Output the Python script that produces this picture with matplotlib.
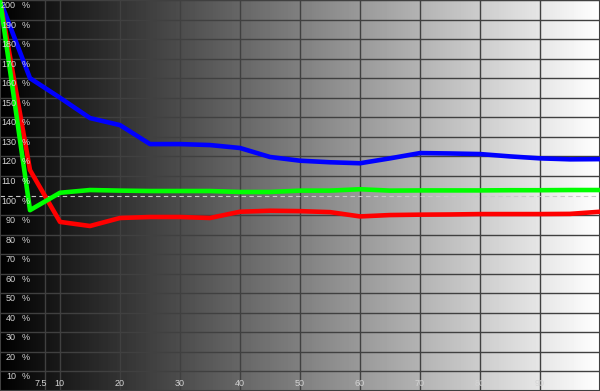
import matplotlib
matplotlib.use("Agg")
import matplotlib.pyplot as plt
import matplotlib.transforms as mtransforms
import numpy as np

# stimulus level (%) and measured output (% of reference) per channel
levels = [0, 5, 10, 15, 20, 25, 30, 35, 40, 45, 50, 55, 60, 65, 70, 75, 80, 85, 90, 95, 100]
red = [200, 113, 86.5, 84.4, 88.5, 89, 89, 88.5, 91.7, 92.2, 92, 91.5, 89.3, 90, 90.2, 90.3, 90.5, 90.5, 90.5, 90.6, 91.7]
green = [200, 92.5, 101.4, 102.8, 102.5, 102.3, 102.3, 102.3, 101.8, 101.8, 102.5, 102.5, 103.2, 102.5, 102.6, 102.6, 102.6, 102.7, 102.7, 102.8, 102.8]
blue = [200, 160, 150, 139.6, 136, 126.3, 126.3, 125.8, 124.3, 119.7, 117.8, 117, 116.5, 119, 121.7, 121.5, 121.2, 120, 119, 118.5, 118.6]

x_ticks = [7.5, 10, 20, 30, 40, 50, 60, 70, 80, 90]
x_labels = ["7.5", "10", "20", "30", "40", "50", "60", "70", "80", "90"]
y_ticks = list(range(10, 201, 10))
y_labels = [str(v) for v in y_ticks]

FONT = ["Liberation Sans Narrow", "Liberation Sans", "DejaVu Sans"]

fig = plt.figure(figsize=(6, 3.91), dpi=100)
ax = fig.add_axes([0, 0, 1, 1])
ax.set_xlim(0, 100)
ax.set_ylim(0, 200)

# black-to-white horizontal gradient background
grad = np.linspace(0, 1, 600).reshape(1, -1)
ax.imshow(grad, cmap="gray", extent=[0, 100, 0, 200], aspect="auto",
          vmin=0, vmax=1, zorder=0)

grid_color = "#404040"
for xv in x_ticks:
    ax.axvline(xv, color=grid_color, lw=1, zorder=1)
for yv in y_ticks:
    if yv == 100:
        continue
    ax.axhline(yv, color=grid_color, lw=1, zorder=1)
ax.axhline(100, color="#c8c8c8", lw=0.8, ls=(0, (4, 3)), zorder=2)

ax.plot(levels, blue, color="#0000ff", lw=3.3, zorder=3)
ax.plot(levels, red, color="#ff0000", lw=3.3, zorder=4)
ax.plot(levels, green, color="#00ff00", lw=3.3, zorder=5)

label_color = "#d4d4d4"
# y labels sit just below their grid line: number right aligned, then "%"
ytrans = mtransforms.blended_transform_factory(ax.transAxes, ax.transData) + \
    mtransforms.ScaledTranslation(0, -5.5 / 100, fig.dpi_scale_trans)
for yv, lab in zip(y_ticks, y_labels):
    ax.text(16 / 600, yv, lab, transform=ytrans, ha="right", va="center",
            fontsize=6.5, family=FONT, color=label_color, zorder=6)
    ax.text(21.5 / 600, yv, "%", transform=ytrans, ha="left", va="center",
            fontsize=6.5, family=FONT, color=label_color, zorder=6)

xtrans = mtransforms.blended_transform_factory(ax.transData, ax.transAxes)
for xv, lab in zip(x_ticks, x_labels):
    xpos = xv - 0.7 if lab == "7.5" else xv - 0.1
    ax.text(xpos, 7 / 391, lab, transform=xtrans, ha="center", va="center",
            fontsize=6.5, family=FONT, color=label_color, zorder=6)

ax.set_xticks([])
ax.set_yticks([])
for sp in ax.spines.values():
    sp.set_color(grid_color)
    sp.set_linewidth(1.5)

fig.savefig("out.png", dpi=100)
